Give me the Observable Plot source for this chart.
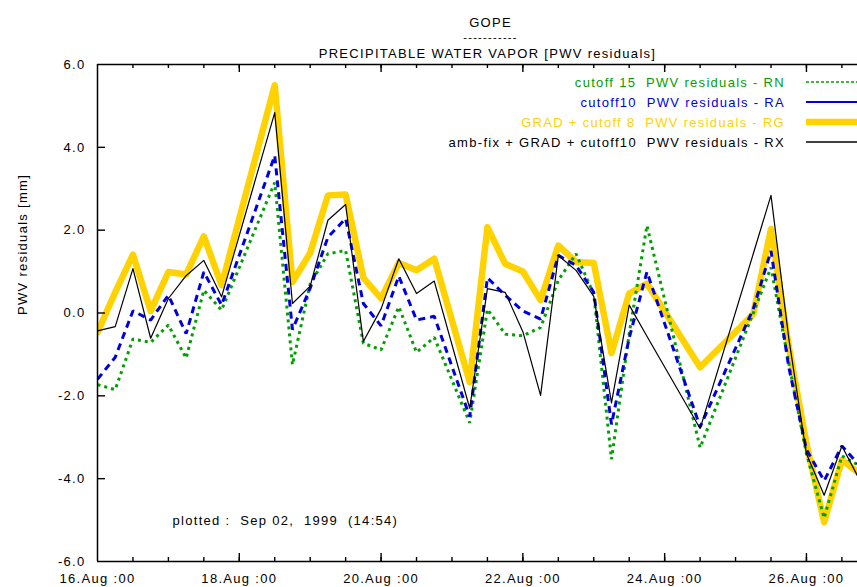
<!DOCTYPE html>
<html><head><meta charset="utf-8">
<script src="https://cdn.jsdelivr.net/npm/d3@7"></script>
<script src="https://cdn.jsdelivr.net/npm/@observablehq/plot@0.6"></script>
<style>
html,body{margin:0;padding:0;background:#fff;overflow:hidden}
svg text{white-space:pre}
</style></head><body><div id="chart"></div>
<script>
// ---- data ----
const times = [
  "1999-08-16T00","1999-08-16T06","1999-08-16T12","1999-08-16T18",
  "1999-08-17T00","1999-08-17T06","1999-08-17T12","1999-08-17T18",
  "1999-08-18T12","1999-08-18T18",
  "1999-08-19T00","1999-08-19T06","1999-08-19T12","1999-08-19T18",
  "1999-08-20T00","1999-08-20T06","1999-08-20T12","1999-08-20T18",
  "1999-08-21T06","1999-08-21T12","1999-08-21T18",
  "1999-08-22T00","1999-08-22T06","1999-08-22T12","1999-08-22T18",
  "1999-08-23T00","1999-08-23T06","1999-08-23T12","1999-08-23T18",
  "1999-08-24T12",
  "1999-08-25T06","1999-08-25T12","1999-08-25T18",
  "1999-08-26T00","1999-08-26T06","1999-08-26T12","1999-08-26T18"
];
const pwvRN = [-1.73,-1.85,-0.63,-0.71,-0.29,-1.09,0.55,0.07,3.15,-1.25,0.7,1.43,1.51,-0.73,-0.89,0.15,-0.95,-0.59,-2.65,0.09,-0.51,-0.55,-0.35,0.79,1.43,0.45,-3.53,-0.5,2.11,-3.25,0.0,1.1,-1.2,-3.4,-4.95,-3.45,-3.69];
const pwvRA = [-1.6,-1.07,0.05,-0.17,0.43,-0.5,0.99,0.19,3.8,-0.4,0.6,1.83,2.28,0.23,-0.31,0.89,-0.17,-0.08,-2.5,0.85,0.43,0.05,-0.15,1.39,1.15,0.5,-2.69,-0.6,0.99,-2.75,0.1,1.5,-1.3,-3.3,-4.05,-3.21,-3.68];
const pwvRG = [-0.47,0.5,1.41,0.05,0.99,0.93,1.85,0.67,5.5,0.75,1.45,2.84,2.86,0.85,0.35,1.21,1.03,1.31,-1.67,2.07,1.19,1.0,0.31,1.63,1.23,1.21,-0.97,0.47,0.71,-1.31,-0.03,2.03,-0.8,-3.15,-5.05,-3.55,-3.88];
const pwvRX = [-0.43,-0.33,1.07,-0.61,0.35,0.9,1.27,0.39,4.84,0.23,0.65,2.24,2.62,-0.69,0.1,1.31,0.47,0.77,-2.3,0.59,0.5,-0.45,-1.99,1.39,1.03,0.4,-2.17,0.19,-0.56,-2.79,1.43,2.84,-0.6,-3.4,-4.4,-3.21,-4.03];

const seriesKeys = ["RN","RA","RG","RX"];
const seriesNames = [
  "cutoff 15  PWV residuals - RN",
  "cutoff10  PWV residuals - RA",
  "GRAD + cutoff 8  PWV residuals - RG",
  "amb-fix + GRAD + cutoff10  PWV residuals - RX"
];
const seriesColors = ["#00a000","#0000dd","#ffd200","#000000"];

const yTicks = [-6,-4,-2,0,2,4,6];
const yTickLabels = ["-6.0","-4.0","-2.0","0.0","2.0","4.0","6.0"];
const xTickDates = ["1999-08-16","1999-08-18","1999-08-20","1999-08-22","1999-08-24","1999-08-26"];
const xTickLabels = ["16.Aug :00","18.Aug :00","20.Aug :00","22.Aug :00","24.Aug :00","26.Aug :00"];
const xDomain = ["1999-08-16T00:00Z","1999-08-26T17:17Z"];

const titleText = "GOPE";
const titleRule = "-----------";
const subtitleText = "PRECIPITABLE WATER VAPOR [PWV residuals]";
const yLabelText = "PWV residuals [mm]";
const plottedText = "plotted :  Sep 02,  1999  (14:54)";

// ---- build ----
const parseT = d3.utcParse("%Y-%m-%dT%H");
const dates = times.map(parseT);
const valuesByKey = {RN: pwvRN, RA: pwvRA, RG: pwvRG, RX: pwvRX};
const table = seriesKeys.flatMap(k => dates.map((t, i) => ({time: t, value: valuesByKey[k][i], series: k})));
const sel = k => table.filter(d => d.series === k);

const xDom = xDomain.map(s => new Date(s));
const majorTicks = xTickDates.map(s => new Date(s + "T00:00Z"));
const minorTicks = d3.utcHour.every(12).range(xDom[0], xDom[1]).filter(t => t > xDom[0]);
const fmtX = d => { const i = majorTicks.findIndex(t => +t === +d); return i >= 0 ? xTickLabels[i] : ""; };
const fmtY = d => yTickLabels[yTicks.indexOf(d)];

const W = 857, H = 587;
const mL = 97, mR = 0, mT = 64, mB = 26;
const frameW = W - mL - mR, frameH = H - mT - mB;
const tickW = 1.4, majorLen = 8, minorLen = 4;
const chart = Plot.plot({
  width: W, height: H,
  marginLeft: mL, marginRight: mR, marginTop: mT, marginBottom: mB,
  x: {type: "utc", domain: xDom},
  y: {domain: [yTicks[0], yTicks[yTicks.length - 1]]},
  style: {fontFamily: "'Liberation Sans', Arial, sans-serif", fontSize: "13px", letterSpacing: "1.3px", background: "#fff", color: "#000"},
  marks: [
    Plot.line(sel("RG"), {x: "time", y: "value", stroke: seriesColors[2], strokeWidth: 6.5, clip: true}),
    Plot.line(sel("RN"), {x: "time", y: "value", stroke: seriesColors[0], strokeWidth: 3, strokeDasharray: "3,4", strokeLinecap: "butt", strokeLinejoin: "miter", clip: true}),
    Plot.line(sel("RA"), {x: "time", y: "value", stroke: seriesColors[1], strokeWidth: 3, strokeDasharray: "7,5", strokeLinecap: "butt", strokeLinejoin: "miter", clip: true}),
    Plot.line(sel("RX"), {x: "time", y: "value", stroke: seriesColors[3], strokeWidth: 1.2, clip: true}),
    // frame lines (top, bottom, left)
    Plot.ruleY([yTicks[0], yTicks[yTicks.length - 1]], {stroke: "#000", strokeWidth: 1.5}),
    Plot.ruleX([xDom[0]], {stroke: "#000", strokeWidth: 1.5}),
    // inward ticks
    Plot.ruleY(yTicks.slice(1, -1), {stroke: "#000", strokeWidth: tickW, insetRight: frameW - majorLen}),
    Plot.ruleX(majorTicks.slice(1), {stroke: "#000", strokeWidth: tickW, insetTop: frameH - majorLen}),
    Plot.ruleX(minorTicks, {stroke: "#000", strokeWidth: tickW, insetTop: frameH - minorLen}),
    Plot.ruleX(majorTicks.slice(1), {stroke: "#000", strokeWidth: tickW, insetBottom: frameH - majorLen}),
    Plot.ruleX(minorTicks, {stroke: "#000", strokeWidth: tickW, insetBottom: frameH - minorLen}),
    // tick labels
    Plot.axisY({ticks: yTicks, tickSize: 0, tickPadding: 12, tickFormat: fmtY, label: null}),
    Plot.axisX({anchor: "bottom", ticks: majorTicks, tickSize: 0, tickPadding: 12, tickFormat: fmtX, label: null}),
    // titles and notes
    Plot.text([titleText], {text: d => d, frameAnchor: "top", dx: 13, dy: -47}),
    Plot.text([titleRule], {text: d => d, frameAnchor: "top", dx: 13, dy: -31, letterSpacing: 0, fontSize: 11}),
    Plot.text([subtitleText], {text: d => d, frameAnchor: "top", dx: 10, dy: -16}),
    Plot.text([yLabelText], {text: d => d, frameAnchor: "left", rotate: -90, dx: -75, dy: 2}),
    Plot.text([plottedText], {text: d => d, frameAnchor: "bottom-left", textAnchor: "start", dx: 75, dy: -37})
  ]
});
document.getElementById("chart").appendChild(chart);

// ---- legend (top right, inside frame) ----
const svg = d3.select(chart);
const leg = svg.append("g").attr("class", "legend");
const legRowY = [82, 102, 122, 142];
const legStyles = [{w: 1.6, dash: "3,2"}, {w: 2, dash: null}, {w: 6.5, dash: null}, {w: 1.5, dash: null}];
seriesNames.forEach((name, i) => {
  leg.append("text")
    .attr("x", 785).attr("y", legRowY[i]).attr("dy", "0.35em")
    .attr("text-anchor", "end").attr("fill", seriesColors[i])
    .text(name);
  const ln = leg.append("line")
    .attr("x1", 806).attr("x2", 880).attr("y1", legRowY[i]).attr("y2", legRowY[i])
    .attr("stroke", seriesColors[i]).attr("stroke-width", legStyles[i].w);
  if (legStyles[i].dash) ln.attr("stroke-dasharray", legStyles[i].dash);
});
</script>
</body></html>
